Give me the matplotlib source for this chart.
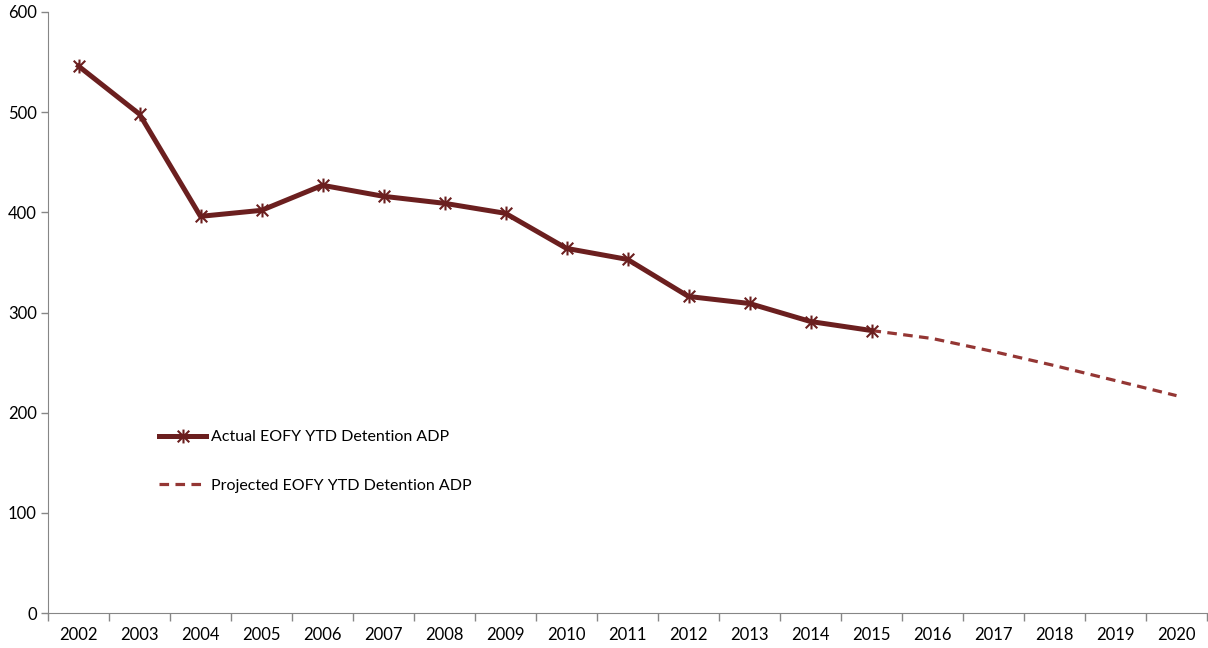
import matplotlib.pyplot as plt
from matplotlib.path import Path

plt.rcParams['font.family'] = ['Lato', 'DejaVu Sans']

years = [str(y) for y in range(2002, 2021)]
actual_years = years[:14]
actual_adp = [546, 498, 396, 402, 427, 416, 409, 399, 364, 353, 316, 309, 291, 282]
proj_years = years[13:]
proj_adp = [282, 274, 261, 247, 232, 217]

# Excel-style star marker: an X with a vertical bar through it
star = Path([(-1, -1), (1, 1), (-1, 1), (1, -1), (0, -1.2), (0, 1.2)],
            [Path.MOVETO, Path.LINETO, Path.MOVETO, Path.LINETO,
             Path.MOVETO, Path.LINETO])

fig = plt.figure(figsize=(12.08, 6.48), dpi=100)
ax = fig.add_axes([48 / 1208, 35 / 648, 1159 / 1208, 601 / 648])

xa = [years.index(y) for y in actual_years]
xp = [years.index(y) for y in proj_years]

ax.plot(xp, proj_adp, color='#943634', lw=2.3, ls=(0, (3, 2)),
        label='Projected EOFY YTD Detention ADP', zorder=2)
ax.plot(xa, actual_adp, color='#6B1F1F', lw=3.6, marker=star,
        markersize=10, markeredgewidth=1.5,
        label='Actual EOFY YTD Detention ADP', zorder=3)

ax.set_xlim(-0.5, len(years) - 0.5)
ax.set_ylim(0, 600)
ax.set_yticks(range(0, 601, 100))
ax.set_xticks(range(len(years)))
ax.set_xticklabels(years)
ax.set_xticks([i - 0.5 for i in range(len(years) + 1)], minor=True)
ax.tick_params(axis='x', which='major', length=0, pad=10, labelsize=12)
ax.tick_params(axis='x', which='minor', length=6, color='#868686', width=1)
ax.tick_params(axis='y', length=5, color='#868686', width=1, labelsize=12, pad=3)

for s in ['top', 'right']:
    ax.spines[s].set_visible(False)
for s in ['left', 'bottom']:
    ax.spines[s].set_color('#868686')

h, l = ax.get_legend_handles_labels()
ax.legend(h[::-1], l[::-1], loc='upper left', bbox_to_anchor=(0.083, 0.328),
          frameon=False, fontsize=11.5, handlelength=3.0, handletextpad=0.3,
          labelspacing=2.15)

fig.savefig('out.png', dpi=100)
